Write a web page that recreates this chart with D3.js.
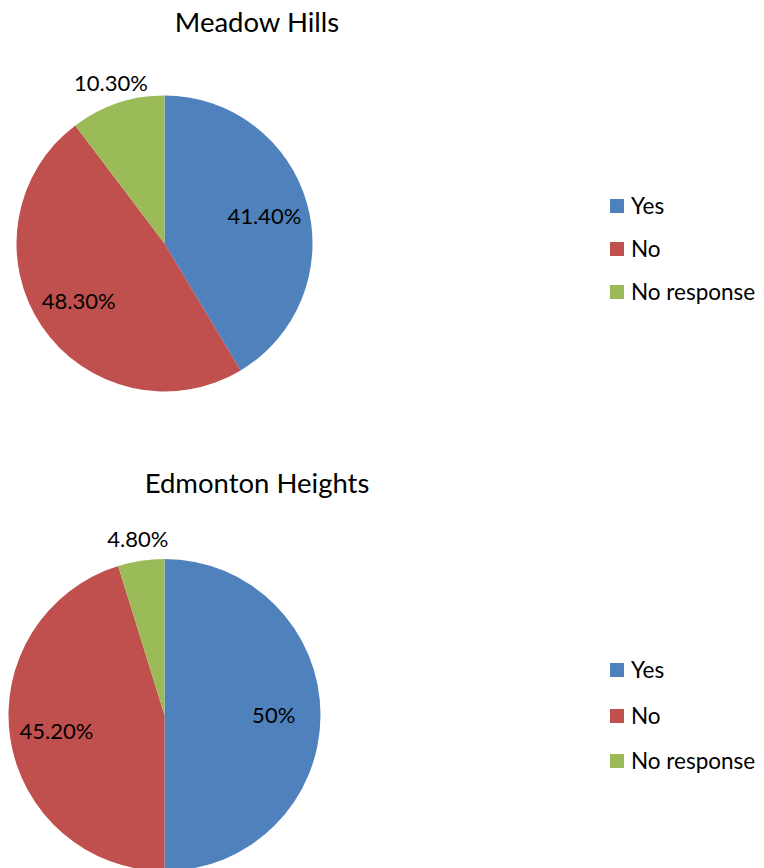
<!DOCTYPE html>
<html>
<head>
<meta charset="utf-8">
<script src="https://cdn.jsdelivr.net/npm/d3@7"></script>
<style>
  html, body { margin: 0; padding: 0; background: #fff; }
  svg { display: block; font-family: Lato, "Open Sans", sans-serif; }
</style>
</head>
<body>
<svg id="chart" width="764" height="868"></svg>
<script>
// --- data -------------------------------------------------------------
var categories = ["Yes", "No", "No response"];
var colors = ["#4F81BD", "#C0504D", "#9BBB59"];

var meadowValues = [41.4, 48.3, 10.3];
var meadowLabels = ["41.40%", "48.30%", "10.30%"];

var edmontonValues = [50, 45.2, 4.8];
var edmontonLabels = ["50%", "45.20%", "4.80%"];

var panels = [
  { title: "Meadow Hills", values: meadowValues, labels: meadowLabels,
    cx: 164.5, cy: 243.5, r: 148, titleY: 31.5, legendY: [206, 249, 292] },
  { title: "Edmonton Heights", values: edmontonValues, labels: edmontonLabels,
    cx: 164.5, cy: 715, r: 156, titleY: 493, legendY: [670, 716, 761] }
];

var svg = d3.select("#chart");
var pie = d3.pie().sort(null).value(function (d) { return d; });

panels.forEach(function (p) {
  var g = svg.append("g").attr("transform", "translate(" + p.cx + "," + p.cy + ")");
  var arcs = pie(p.values);
  var arc = d3.arc().innerRadius(0).outerRadius(p.r);

  g.selectAll("path.slice").data(arcs).enter().append("path")
    .attr("class", "slice")
    .attr("d", arc)
    .attr("fill", function (d, i) { return colors[i]; });

  // labels: inside for big slices, just outside the rim for small ones
  g.selectAll("text.lab").data(arcs).enter().append("text")
    .attr("class", "lab")
    .attr("text-anchor", "middle")
    .attr("dy", "0.36em")
    .style("font-size", "22px")
    .attr("fill", "#000")
    .attr("transform", function (d) {
      var a = (d.startAngle + d.endAngle) / 2;
      var k = d.data < 12 ? 1.14 : 0.7;
      return "translate(" + (Math.sin(a) * p.r * k) + "," + (-Math.cos(a) * p.r * k) + ")";
    })
    .text(function (d, i) { return p.labels[i]; });

  svg.append("text")
    .attr("x", 257).attr("y", p.titleY)
    .attr("text-anchor", "middle")
    .style("font-size", "27.5px")
    .attr("fill", "#000")
    .text(p.title);

  // legend
  var lg = svg.append("g");
  var rows = lg.selectAll("g").data(categories).enter().append("g")
    .attr("transform", function (d, i) { return "translate(610," + p.legendY[i] + ")"; });
  rows.append("rect")
    .attr("x", 0).attr("y", -7).attr("width", 14).attr("height", 14)
    .attr("fill", function (d, i) { return colors[i]; });
  rows.append("text")
    .attr("x", 21).attr("dy", "0.36em")
    .style("font-size", "22.5px")
    .attr("fill", "#000")
    .text(function (d) { return d; });
});
</script>
</body>
</html>
